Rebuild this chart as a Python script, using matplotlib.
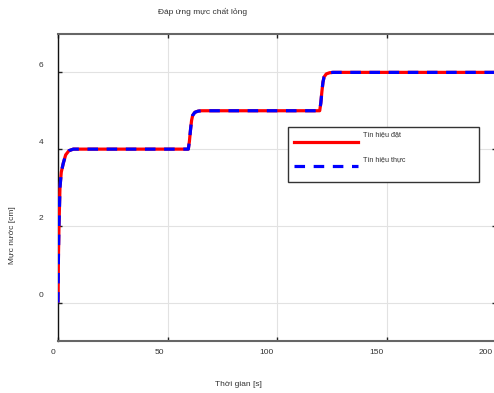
import matplotlib
matplotlib.use("Agg")
import matplotlib.pyplot as plt
from matplotlib.lines import Line2D
from matplotlib.patches import Rectangle
from matplotlib.transforms import ScaledTranslation, blended_transform_factory

plt.rcParams['font.family'] = ['Liberation Sans', 'DejaVu Sans']

# step response (time in s, level in cm)
time_s = [0, 0.2, 0.45, 0.9, 1.5, 2.4, 3.5, 5, 7,
          59.5, 60, 60.5, 61, 61.5, 62.5, 64, 65.5,
          119.5, 120, 120.5, 121, 121.5, 122.5, 124, 125.5, 200]
setpoint = [0, 1.2, 2.0, 3.0, 3.4, 3.63, 3.85, 3.96, 4.0,
            4.0, 4.2, 4.5, 4.75, 4.88, 4.96, 4.99, 5.0,
            5.0, 5.2, 5.5, 5.75, 5.88, 5.96, 5.99, 6.0, 6.0]
actual = [0, 1.2, 2.0, 3.0, 3.4, 3.63, 3.85, 3.96, 4.0,
          4.0, 4.2, 4.5, 4.75, 4.88, 4.96, 4.99, 5.0,
          5.0, 5.2, 5.5, 5.75, 5.88, 5.96, 5.99, 6.0, 6.0]

xticks = [0, 50, 100, 150, 200]
yticks = [0, 2, 4, 6]
txt_color = '#333333'
fs = 6

W, H = 494, 393
fig = plt.figure(figsize=(W / 100, H / 100), dpi=100)
ax = fig.add_axes([58 / W, 52 / H, 438 / W, 307 / H])

ax.plot(time_s, setpoint, color='#ff0000', lw=2.3, solid_capstyle='butt', zorder=3)
ax.plot(time_s, actual, color='#0000ff', lw=2.3, dashes=(3.3, 2.7), zorder=4)

ax.set_xlim(0, 200)
ax.set_ylim(-1, 7)
ax.set_xticks(xticks)
ax.set_yticks(yticks)
ax.set_xticklabels([])
ax.set_yticklabels([])
ax.tick_params(direction='in', length=3, width=1, colors='#222222',
               top=True, right=True)
ax.grid(True, color='#e2e2e2', lw=0.8)
ax.set_axisbelow(True)

for side in ['top', 'bottom']:
    ax.spines[side].set_color('#666666')
    ax.spines[side].set_linewidth(1.5)
ax.spines['left'].set_color('#111111')
ax.spines['left'].set_linewidth(1.0)
ax.spines['right'].set_color('#666666')

# tick labels, placed like the original (shifted off the ticks)
bx = blended_transform_factory(ax.transData, ax.transAxes)
for t in xticks:
    ax.text(t, 0, str(t), transform=bx + ScaledTranslation(-3 / 100, -12 / 100, fig.dpi_scale_trans),
            ha='right', va='center', fontsize=fs, color=txt_color)
by = blended_transform_factory(ax.transAxes, ax.transData)
for v in yticks:
    ax.text(0, v, str(v), transform=by + ScaledTranslation(-15 / 100, 7 / 100, fig.dpi_scale_trans),
            ha='right', va='center', fontsize=fs, color=txt_color)

# legend box
ax.add_patch(Rectangle((0.525, 0.5195), 0.436, 0.1775, transform=ax.transAxes,
                       facecolor='white', edgecolor='#333333', lw=1.0, zorder=5))
ax.add_line(Line2D([0.539, 0.685], [0.648, 0.648], transform=ax.transAxes,
                   color='#ff0000', lw=2.3, zorder=6))
ax.add_line(Line2D([0.539, 0.685], [0.570, 0.570], transform=ax.transAxes,
                   color='#0000ff', lw=2.3, dashes=(3.3, 2.7), zorder=6))
ax.text(0.696, 0.671, 'Tín hiệu đặt', transform=ax.transAxes, fontsize=5.2,
        color=txt_color, va='center', ha='left', zorder=7)
ax.text(0.696, 0.590, 'Tín hiệu thực', transform=ax.transAxes, fontsize=5.2,
        color=txt_color, va='center', ha='left', zorder=7)

fig.text(203 / W, 1 - 12 / H, 'Đáp ứng mực chất lỏng', ha='center', va='center',
         fontsize=fs, color=txt_color)
fig.text(238 / W, 1 - 385 / H, 'Thời gian [s]', ha='center', va='center',
         fontsize=fs, color=txt_color)
fig.text(13 / W, 1 - 235 / H, 'Mực nước [cm]', ha='center', va='center',
         rotation=90, fontsize=fs, color=txt_color)

fig.savefig('out.png', dpi=100)
